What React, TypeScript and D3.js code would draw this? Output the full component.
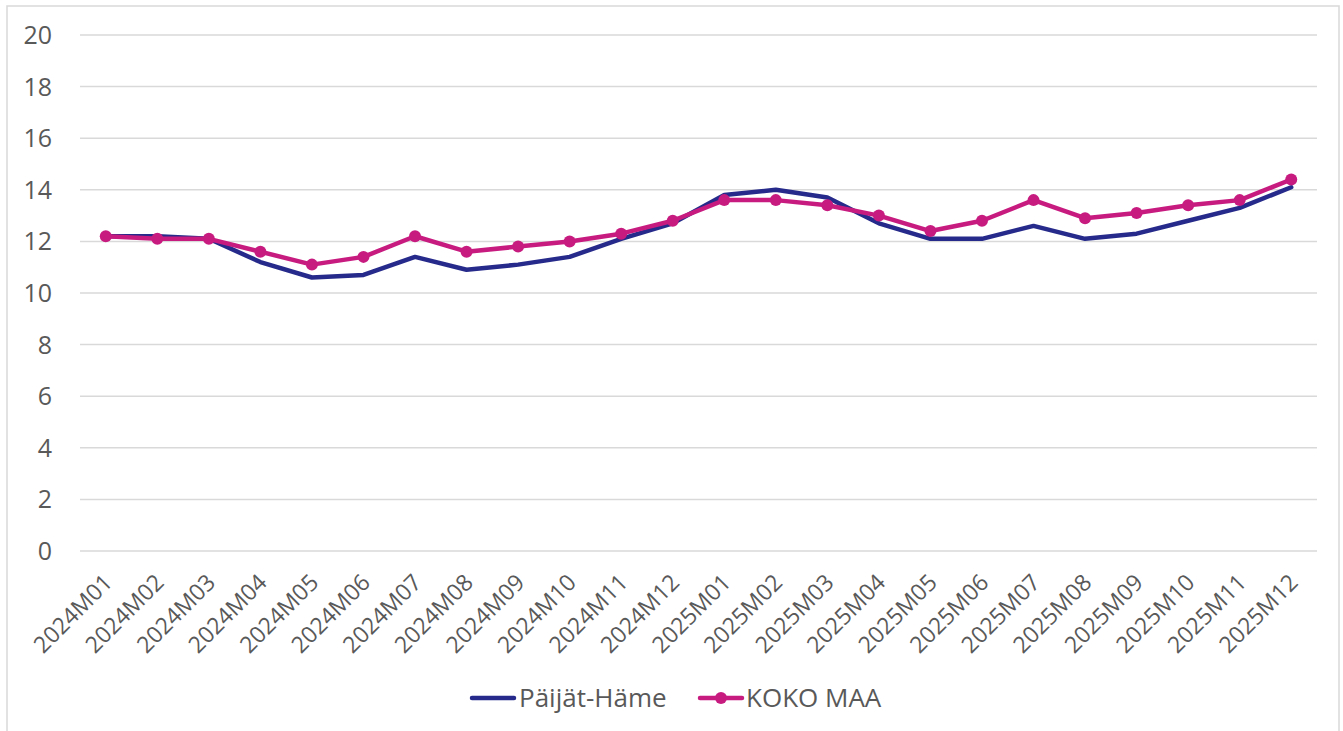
import React from "react";
import * as d3 from "d3";

const categories = [
  "2024M01","2024M02","2024M03","2024M04","2024M05","2024M06",
  "2024M07","2024M08","2024M09","2024M10","2024M11","2024M12",
  "2025M01","2025M02","2025M03","2025M04","2025M05","2025M06",
  "2025M07","2025M08","2025M09","2025M10","2025M11","2025M12",
];
const paijatHame = [12.2,12.2,12.1,11.2,10.6,10.7,11.4,10.9,11.1,11.4,12.1,12.7,13.8,14.0,13.7,12.7,12.1,12.1,12.6,12.1,12.3,12.8,13.3,14.1];
const kokoMaa = [12.2,12.1,12.1,11.6,11.1,11.4,12.2,11.6,11.8,12.0,12.3,12.8,13.6,13.6,13.4,13.0,12.4,12.8,13.6,12.9,13.1,13.4,13.6,14.4];
const yTicks = [0,2,4,6,8,10,12,14,16,18,20];
const seriesNames = ["Päijät-Häme", "KOKO MAA"];

const W = 1343, H = 731;
const NAVY = "#262a8a";
const MAGENTA = "#c81b80";
const TEXT = "#595959";
const FONT = "'Open Sans', 'Noto Sans', sans-serif";

export default function App() {
  const x = d3.scaleBand<string>().domain(categories).range([80, 1317]);
  const y = d3.scaleLinear().domain([0, 20]).range([551, 35]);
  const cx = (c: string) => (x(c) as number) + x.bandwidth() / 2;
  const line = d3.line<number>().x((_, i) => cx(categories[i])).y((v) => y(v));

  return (
    <svg width={W} height={H} style={{ position: "absolute", left: 0, top: 0, background: "#fff" }} fontFamily={FONT}>
      <rect x={7} y={6} width={1332} height={730} fill="#fff" stroke="#d9d9d9" strokeWidth={1.5} />
      {yTicks.map((t) => (
        <g key={t}>
          <line x1={80} x2={1317} y1={y(t)} y2={y(t)} stroke="#d9d9d9" strokeWidth={1.5} />
          <text x={52} y={y(t)} dy="0.36em" textAnchor="end" fontSize={25} fill={TEXT}>{t}</text>
        </g>
      ))}
      {categories.map((c) => (
        <text key={c} transform={`translate(${cx(c) + 8},${584}) rotate(-45)`} textAnchor="end" fontSize={23} fill={TEXT}>{c}</text>
      ))}
      <path d={line(paijatHame) || ""} fill="none" stroke={NAVY} strokeWidth={4.5} strokeLinejoin="round" strokeLinecap="round" />
      <path d={line(kokoMaa) || ""} fill="none" stroke={MAGENTA} strokeWidth={4.5} strokeLinejoin="round" strokeLinecap="round" />
      {kokoMaa.map((v, i) => (
        <circle key={i} cx={cx(categories[i])} cy={y(v)} r={6} fill={MAGENTA} />
      ))}
      <g>
        <line x1={472} x2={514} y1={698} y2={698} stroke={NAVY} strokeWidth={4.5} strokeLinecap="round" />
        <text x={519} y={698} dy="0.36em" fontSize={26} fill={TEXT}>{seriesNames[0]}</text>
        <line x1={700} x2={742} y1={698} y2={698} stroke={MAGENTA} strokeWidth={4.5} strokeLinecap="round" />
        <circle cx={721} cy={698} r={6} fill={MAGENTA} />
        <text x={746} y={698} dy="0.36em" fontSize={26} fill={TEXT}>{seriesNames[1]}</text>
      </g>
    </svg>
  );
}
